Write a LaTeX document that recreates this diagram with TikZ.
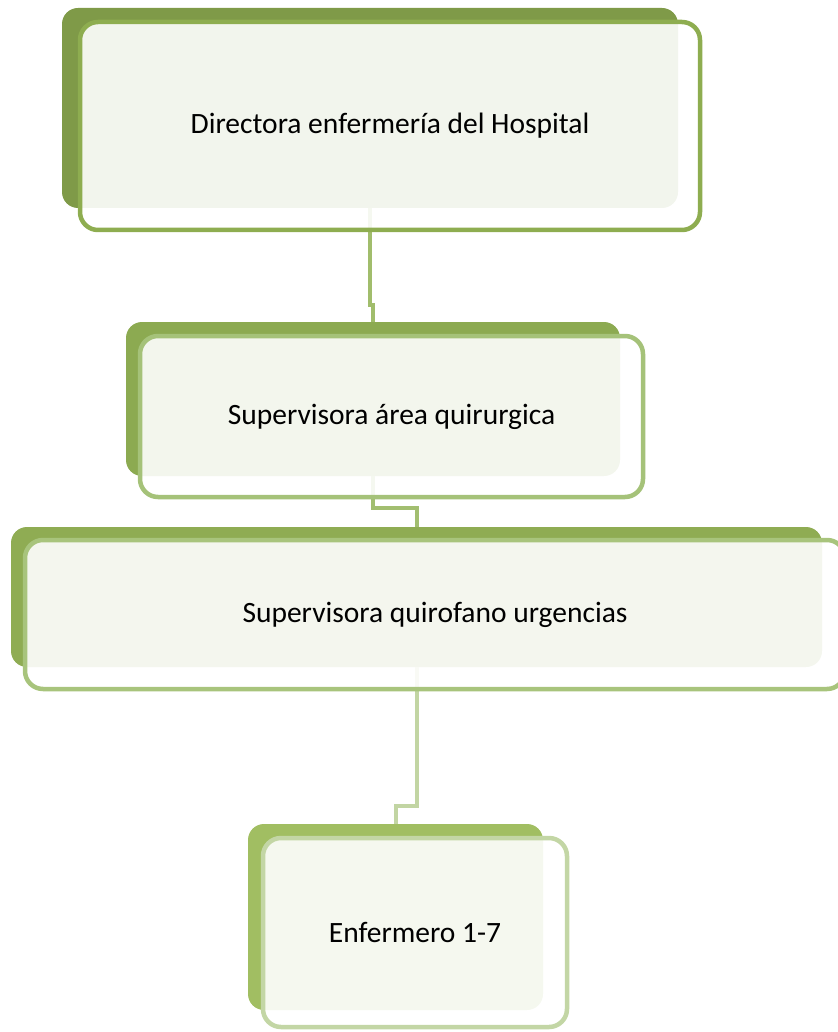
\documentclass[tikz,border=0pt]{standalone}
\usepackage{fontspec}
\setmainfont{Carlito}

\definecolor{backA}{HTML}{7F9A48}
\definecolor{backB}{HTML}{8CAA51}
\definecolor{backC}{HTML}{8FAC53}
\definecolor{backD}{HTML}{A1BE62}
\definecolor{lineA}{HTML}{8EAD50}
\definecolor{lineB}{HTML}{A5C279}
\definecolor{lineC}{HTML}{A8C47C}
\definecolor{lineD}{HTML}{C3D6A5}
\definecolor{linkA}{HTML}{A1BD6C}
\definecolor{linkB}{HTML}{A2BE70}
\definecolor{linkC}{HTML}{C2D5A3}

\begin{document}
\begin{tikzpicture}[x=1pt,y=-1pt,
  back box/.style={rectangle,rounded corners=16pt,inner sep=0pt,outer sep=0pt},
  front box/.style={rectangle,rounded corners=18pt,line width=4.5pt,fill=white,
    fill opacity=0.9,text opacity=1,inner sep=0pt,outer sep=0pt,
    font=\fontsize{29.5}{35}\selectfont},
  link/.style={line width=4pt}]

  \useasboundingbox (0,0) rectangle (837,1032);

  % shadow boxes
  \node[back box,fill=backA,minimum width=616pt,minimum height=200pt] (b1) at (370,108) {};
  \node[back box,fill=backB,minimum width=494pt,minimum height=154pt] (b2) at (373,399) {};
  \node[back box,fill=backC,minimum width=811pt,minimum height=140pt] (b3) at (416.5,597) {};
  \node[back box,fill=backD,minimum width=295pt,minimum height=186pt] (b4) at (395.5,917) {};

  % connectors
  \draw[link,linkA] (b1.south) -- ++(0,97) -| (b2.north);
  \draw[link,linkB] (b2.south) -- ++(0,32) -| (b3.north);
  \draw[link,linkC] (b3.south) -- ++(0,139) -| (b4.north);

  % text boxes
  \node[front box,draw=lineA,minimum width=620pt,minimum height=208pt] (f1)
    at ([shift={(20,18)}]b1) {Directora enfermería del Hospital};
  \node[front box,draw=lineB,minimum width=503pt,minimum height=161pt] (f2)
    at ([shift={(18.5,17.5)}]b2) {Supervisora área quirurgica};
  \node[front box,draw=lineC,minimum width=820pt,minimum height=149pt] (f3)
    at ([shift={(18.5,17.5)}]b3) {Supervisora quirofano urgencias};
  \node[front box,draw=lineD,minimum width=304pt,minimum height=189pt] (f4)
    at ([shift={(19.5,15.5)}]b4) {Enfermero 1-7};
\end{tikzpicture}
\end{document}
